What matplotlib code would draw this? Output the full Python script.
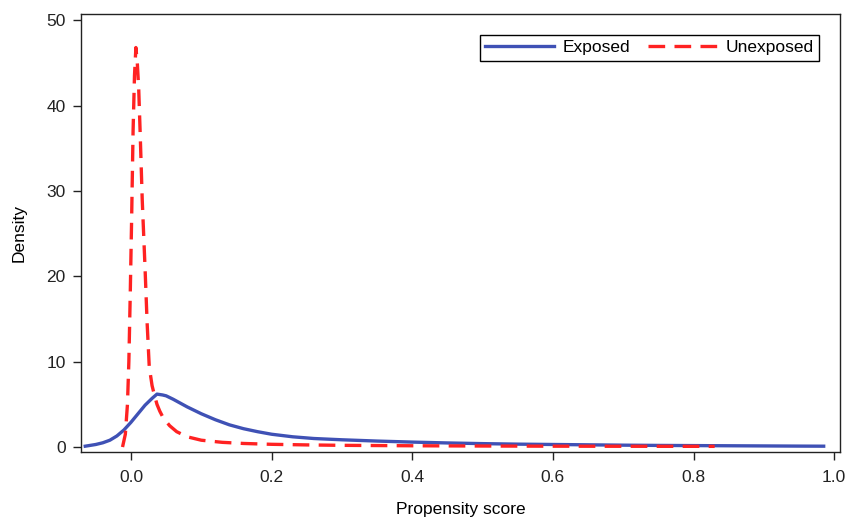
import matplotlib
matplotlib.use("Agg")
import matplotlib.pyplot as plt

plt.rcParams['font.family'] = ['Liberation Sans', 'DejaVu Sans']

# exposed group density
exp_x = [-0.065, -0.05, -0.04, -0.03, -0.02, -0.01, 0.0, 0.01, 0.02, 0.03, 0.037,
         0.045, 0.05, 0.06, 0.07, 0.08, 0.09, 0.10, 0.12, 0.14, 0.16, 0.18, 0.20,
         0.23, 0.26, 0.30, 0.35, 0.40, 0.45, 0.50, 0.55, 0.60, 0.65, 0.70, 0.75,
         0.80, 0.85, 0.90, 0.95, 0.985]
exp_y = [0.1, 0.3, 0.5, 0.8, 1.3, 2.0, 2.9, 3.9, 4.9, 5.7, 6.2,
         6.1, 6.0, 5.6, 5.15, 4.7, 4.3, 3.9, 3.2, 2.6, 2.15, 1.8, 1.5,
         1.2, 1.0, 0.85, 0.7, 0.58, 0.48, 0.4, 0.34, 0.3, 0.26, 0.22, 0.19,
         0.17, 0.15, 0.13, 0.11, 0.1]

# unexposed group density
unexp_x = [-0.012, -0.008, -0.005, -0.003, -0.001, 0.001, 0.003, 0.005, 0.007,
           0.009, 0.011, 0.013, 0.016, 0.020, 0.023, 0.026, 0.030, 0.033, 0.037,
           0.041, 0.046, 0.055, 0.065, 0.08, 0.10, 0.13, 0.16, 0.20, 0.25, 0.30,
           0.40, 0.50, 0.60, 0.70, 0.83]
unexp_y = [0.0, 1.5, 5.0, 10.0, 18.0, 27.0, 37.0, 43.5, 46.8,
           45.0, 42.0, 37.0, 29.0, 21.0, 14.5, 9.4, 7.2, 6.2, 5.0,
           4.2, 3.4, 2.5, 1.8, 1.2, 0.8, 0.55, 0.42, 0.32, 0.25, 0.2,
           0.15, 0.12, 0.1, 0.09, 0.08]

fig = plt.figure(figsize=(8.53, 5.27), dpi=100)
ax = fig.add_axes([0.095, 0.142, 0.89, 0.831])

ax.plot(exp_x, exp_y, color='#3f51b5', lw=2.4, label='Exposed')
ax.plot(unexp_x, unexp_y, color='#ff2222', lw=2.4, ls=(0, (5, 2.8)), label='Unexposed')

ax.set_xlim(-0.071, 1.0085)
ax.set_ylim(-0.6, 50.7)
ax.set_xticks([0, 0.2, 0.4, 0.6, 0.8, 1.0])
ax.set_xticklabels(['0.0', '0.2', '0.4', '0.6', '0.8', '1.0'])
ax.set_yticks([0, 10, 20, 30, 40, 50])
ax.tick_params(direction='out', length=6, width=1, labelsize=12.5, colors='#222222')
ax.tick_params(axis='x', pad=7)
ax.tick_params(axis='y', pad=5)
for s in ax.spines.values():
    s.set_color('#222222')
    s.set_linewidth(1)

ax.set_xlabel('Propensity score', fontsize=12.5, labelpad=12)
ax.set_ylabel('Density', fontsize=12.5, labelpad=14)

leg = ax.legend(loc='upper right', ncol=2, fontsize=12.5, frameon=True, fancybox=False,
                edgecolor='black', framealpha=1, handlelength=4.0, handletextpad=0.5,
                columnspacing=1.0, borderaxespad=1.2, borderpad=0.3)
leg.get_frame().set_linewidth(1)

fig.savefig('out.png', dpi=100)
